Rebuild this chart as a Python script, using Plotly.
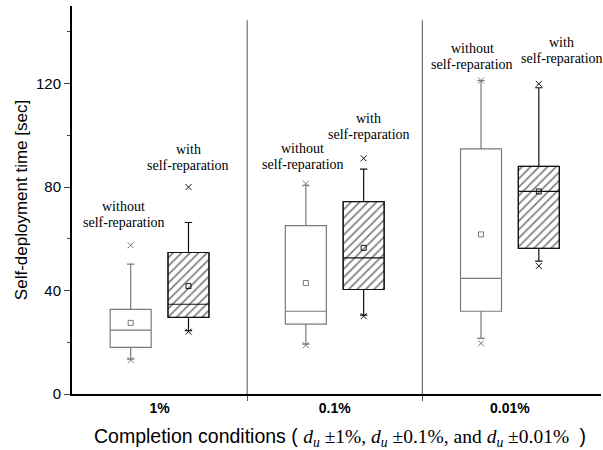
import plotly.graph_objects as go

# ---------------- data ----------------
conditions = ["1%", "0.1%", "0.01%"]

wo_q1 = [18.0, 27.0, 32.0]
wo_median = [24.7, 32.0, 44.7]
wo_q3 = [32.7, 65.1, 94.8]
wo_low = [13.5, 19.3, 21.5]
wo_high = [50.2, 80.7, 121.2]
wo_mean = [27.5, 42.9, 61.7]
wo_min = [13.1, 18.9, 19.6]
wo_max = [57.5, 81.3, 121.2]

w_q1 = [29.6, 40.4, 56.3]
w_median = [34.7, 52.6, 78.3]
w_q3 = [54.7, 74.4, 88.0]
w_low = [24.5, 30.5, 51.4]
w_high = [66.3, 86.9, 118.4]
w_mean = [41.7, 56.5, 78.3]
w_min = [24.1, 30.1, 49.5]
w_max = [80.0, 91.1, 119.9]

label_without = ["without", "self-reparation"]
label_with = ["with", "self-reparation"]

# ---------------- style ----------------
OFF = 0.165
BW = 0.234
GRAY = "#7a7a7a"
BLACK = "#111111"
SERIF = "Liberation Serif"
SANS = "Liberation Sans"

idx = list(range(len(conditions)))
pos_wo = [i - OFF for i in idx]
pos_w = [i + OFF for i in idx]

fig = go.Figure()

# hatched body of "with" boxes
fig.add_trace(go.Bar(
    x=pos_w, base=w_q1, y=[b - a for a, b in zip(w_q1, w_q3)], width=BW,
    marker=dict(color="white", line=dict(color=BLACK, width=1),
                pattern=dict(shape="/", fgcolor="#000", bgcolor="white", size=6, solidity=0.28)),
    showlegend=False, hoverinfo="skip"))

fig.add_trace(go.Box(
    x=pos_wo, q1=wo_q1, median=wo_median, q3=wo_q3, lowerfence=wo_low, upperfence=wo_high,
    width=BW, whiskerwidth=0.18, fillcolor="rgba(255,255,255,0)",
    line=dict(color=GRAY, width=1.2), boxpoints=False, showlegend=False))
fig.add_trace(go.Box(
    x=pos_w, q1=w_q1, median=w_median, q3=w_q3, lowerfence=w_low, upperfence=w_high,
    width=BW, whiskerwidth=0.18, fillcolor="rgba(255,255,255,0)",
    line=dict(color=BLACK, width=1.2), boxpoints=False, showlegend=False))

# means
fig.add_trace(go.Scatter(x=pos_wo, y=wo_mean, mode="markers",
                         marker=dict(symbol="square-open", size=5, color=GRAY, line=dict(width=1)),
                         showlegend=False))
fig.add_trace(go.Scatter(x=pos_w, y=w_mean, mode="markers",
                         marker=dict(symbol="square-open", size=5, color=BLACK, line=dict(width=1)),
                         showlegend=False))
# min / max
fig.add_trace(go.Scatter(x=pos_wo + pos_wo, y=wo_min + wo_max, mode="markers",
                         marker=dict(symbol="x-thin", size=6, line=dict(color=GRAY, width=1)),
                         showlegend=False))
fig.add_trace(go.Scatter(x=pos_w + pos_w, y=w_min + w_max, mode="markers",
                         marker=dict(symbol="x-thin", size=6, line=dict(color=BLACK, width=1)),
                         showlegend=False))

# labels
lab_dx_wo = [-7, -3, -9]
lab_dx_w = [0, 5, 23]
lab_gap_wo = [14, 11, 8]
lab_gap_w = [13, 15, 17]
for i in idx:
    for pos, top, dx, gap, words in ((pos_wo[i], wo_max[i], lab_dx_wo[i], lab_gap_wo[i], label_without),
                                     (pos_w[i], w_max[i], lab_dx_w[i], lab_gap_w[i], label_with)):
        fig.add_annotation(x=pos, y=top, text=words[1], showarrow=False, xshift=dx, borderpad=0,
                           yshift=gap, yanchor="bottom", font=dict(family=SERIF, size=14, color="black"))
        fig.add_annotation(x=pos, y=top, text=words[0], showarrow=False, xshift=dx, borderpad=0,
                           yshift=gap + 16, yanchor="bottom", font=dict(family=SERIF, size=14, color="black"))

# separators
for b in [0.5, 1.5]:
    fig.add_shape(type="line", x0=b, x1=b, y0=0, y1=144.5, xref="x", yref="y",
                  line=dict(color="#555", width=1))

# x title with math
math = f"font-family:{SERIF}"
du = f"<span style='{math}'><i>d<sub>u</sub></i></span>"
title = (f"Completion conditions ( {du}<span style='{math}'> ±1%, </span>{du}"
         f"<span style='{math}'> ±0.1%, and </span>{du}<span style='{math}'> ±0.01% </span> )")
fig.add_annotation(x=0.507, y=-0.111, xref="paper", yref="paper", text=title, showarrow=False,
                   yanchor="middle", font=dict(family=SANS, size=19.5, color="black"))

fig.update_layout(
    width=603, height=450, margin=dict(l=72, r=2, t=6, b=56),
    paper_bgcolor="white", plot_bgcolor="white",
    font=dict(family=SANS, color="black"),
    xaxis=dict(range=[-0.5, 2.52], tickvals=idx, ticktext=[f"<b>{c}</b>" for c in conditions], ticks="",
               showline=True, linecolor="black", linewidth=2, showgrid=False, zeroline=False,
               tickfont=dict(size=14),
               minor=dict(tickvals=[0.5, 1.5], ticks="outside", ticklen=5, tickcolor="#555")),
    yaxis=dict(range=[0, 150], tickvals=[0, 40, 80, 120], ticks="outside", ticklen=6, tickwidth=1,
               showline=True, linecolor="black", linewidth=2, showgrid=False, zeroline=False,
               tickfont=dict(size=15),
               minor=dict(tickvals=[20, 60, 100, 140], ticks="outside", ticklen=3),
               title=dict(text="Self-deployment time [sec]", font=dict(size=17), standoff=4)),
)

fig.write_html("out.html")
